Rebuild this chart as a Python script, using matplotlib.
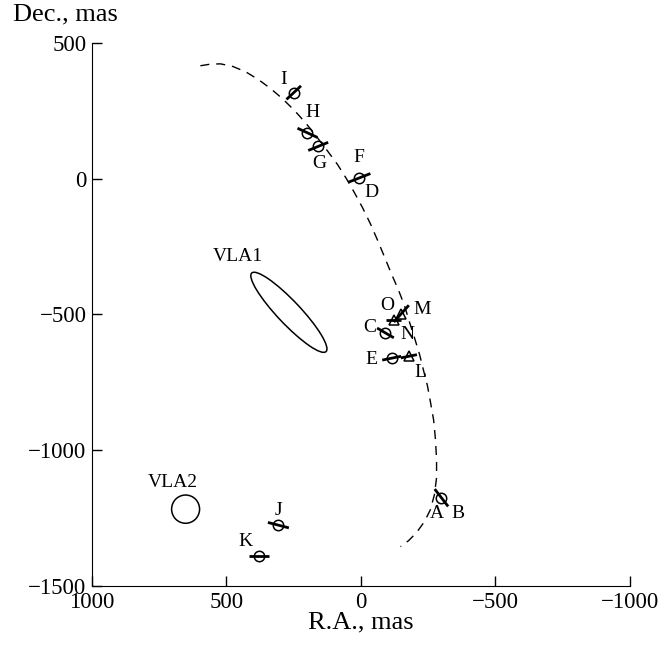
import matplotlib
matplotlib.use("Agg")
import matplotlib.pyplot as plt
from matplotlib.patches import Ellipse

plt.rcParams['font.family'] = ['Liberation Serif', 'DejaVu Serif']

# ---- data (mas) ----
circle_labels = ['A', 'C', 'E', 'F', 'G', 'H', 'I', 'J', 'K']
circle_ra = [-299, -91, -114, 6, 159, 199, 250, 307, 380]
circle_dec = [-1175, -568, -661, 3, 119, 169, 317, -1276, -1389]
circle_bar_dra = [-25, -31, -35, -41, -37, -37, -27, -39, -37]
circle_bar_ddec = [-32, -18, 7, 16, 15, -17, 25, -10, 0]

tri_labels = ['L', 'M', 'O']
tri_ra = [-178, -150, -121]
tri_dec = [-654, -497, -519]
tri_bar_dra = [-30, -28, -28]
tri_bar_ddec = [6, 31, 0]

# labels sharing a position with another epoch
extra_labels = ['B', 'D', 'N']
extra_host = ['A', 'F', 'C']

# orbit-like dashed curve
curve_ra = [597, 560, 522, 478, 429, 381, 336, 292, 247, 206, 165, 125, 87, 54,
            24, -6, -35, -61, -87, -113, -139, -162, -180, -199, -218, -232,
            -247, -258, -270, -277, -281, -281, -273, -258, -236, -206, -177, -147]
curve_dec = [416, 422, 423, 414, 394, 365, 332, 295, 251, 206, 155, 103, 52, 0,
             -52, -107, -166, -225, -287, -350, -409, -468, -527, -586, -648, -704,
             -762, -821, -888, -961, -1035, -1101, -1164, -1219, -1263, -1304, -1333, -1355]

# VLA sources: (ra, dec, major, minor, angle)
vla_names = ['VLA1', 'VLA2']
vla_ra = [268, 652]
vla_dec = [-492, -1217]
vla_major = [400, 104]
vla_minor = [85, 104]
vla_angle = [46.3, 0]

xticks = [1000, 500, 0, -500, -1000]
yticks = [500, 0, -500, -1000, -1500]

# ---- style ----
label_off = {  # offset points
    'I': (-7, 9.5), 'H': (3.6, 14.4), 'G': (0.7, -12.2), 'F': (-0.7, 14.4),
    'D': (8.6, -10.8), 'A': (-3.6, -11.5), 'B': (12.2, -11.5), 'J': (0, 10.8),
    'K': (-9.4, 10), 'C': (-11.5, 3.6), 'N': (15.8, -1.4), 'E': (-14.4, -1),
    'L': (8, -11.5), 'O': (-4.3, 10), 'M': (15, 3),
}
vla_label_off = {'VLA1': (-37, 40), 'VLA2': (-9.4, 19.4)}
letter_fs = 14
tick_fs = 16.5
axlabel_fs = 19

fig = plt.figure(figsize=(6.58, 6.45), dpi=100)
ax = fig.add_axes([0.1398, 0.0915, 0.8176, 0.8419])

ax.plot(curve_ra, curve_dec, color='black', lw=1.0, dashes=(6.5, 5))

pos = {}
for lab, x, y, dx, dy in zip(circle_labels, circle_ra, circle_dec, circle_bar_dra, circle_bar_ddec):
    ax.plot([x - dx, x + dx], [y - dy, y + dy], color='black', lw=2.0, solid_capstyle='butt')
    ax.plot([x], [y], marker='o', ms=7.5, mfc='none', mec='black', mew=1.1)
    pos[lab] = (x, y)

for lab, x, y, dx, dy in zip(tri_labels, tri_ra, tri_dec, tri_bar_dra, tri_bar_ddec):
    ax.plot([x - dx, x + dx], [y - dy, y + dy], color='black', lw=2.0, solid_capstyle='butt')
    ax.plot([x], [y], marker='^', ms=7, mfc='none', mec='black', mew=1.1)
    pos[lab] = (x, y)

for lab, host in zip(extra_labels, extra_host):
    pos[lab] = pos[host]

for lab, (x, y) in pos.items():
    ax.annotate(lab, (x, y), xytext=label_off[lab], textcoords='offset points',
                ha='center', va='center', fontsize=letter_fs)

for name, x, y, w, h, a in zip(vla_names, vla_ra, vla_dec, vla_major, vla_minor, vla_angle):
    ax.add_patch(Ellipse((x, y), w, h, angle=a, fill=False, ec='black', lw=1.1))
    ax.annotate(name, (x, y), xytext=vla_label_off[name], textcoords='offset points',
                ha='center', va='center', fontsize=letter_fs)

ax.set_xlim(1000, -1000)
ax.set_ylim(-1500, 500)
ax.set_xticks(xticks)
ax.set_yticks(yticks)
ax.spines['top'].set_visible(False)
ax.spines['right'].set_visible(False)
ax.tick_params(direction='in', length=7, width=1, labelsize=tick_fs, pad=4)
ax.set_xlabel('R.A., mas', fontsize=axlabel_fs, labelpad=-1)
fig.text(0.1, 0.978, 'Dec., mas', fontsize=axlabel_fs, ha='center', va='center')

fig.savefig('out.png', dpi=100)
